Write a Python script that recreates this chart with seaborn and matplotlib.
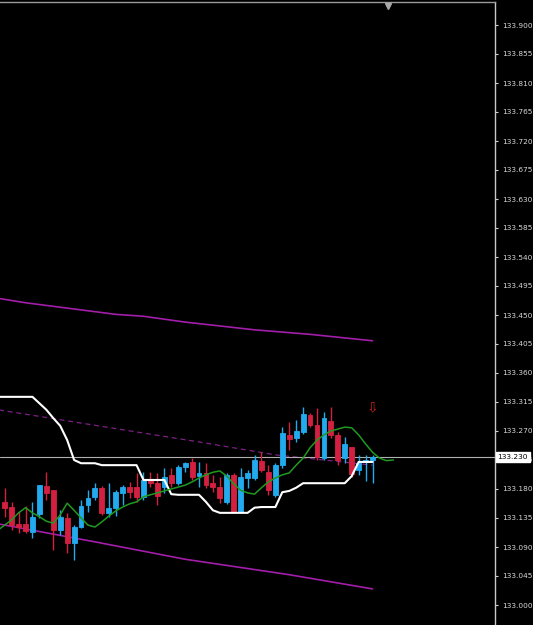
import numpy as np
import pandas as pd
import matplotlib
matplotlib.use("Agg")
import matplotlib.pyplot as plt
import matplotlib.transforms as mtransforms
import seaborn as sns

# ---------------- data ----------------
opens = [133.160, 133.152, 133.126, 133.126, 133.113, 133.141, 133.185, 133.178, 133.116, 133.135,
         133.096, 133.121, 133.155, 133.168, 133.182, 133.143, 133.151, 133.174, 133.183, 133.183,
         133.168, 133.194, 133.189, 133.183, 133.202, 133.189, 133.214, 133.222, 133.200, 133.205,
         133.189, 133.183, 133.160, 133.202, 133.144, 133.197, 133.197, 133.224, 133.206, 133.171,
         133.217, 133.264, 133.259, 133.268, 133.295, 133.279, 133.228, 133.286, 133.264, 133.228,
         133.245, 133.209, 133.222, 133.225]
highs = [133.182, 133.160, 133.144, 133.154, 133.160, 133.186, 133.206, 133.178, 133.147, 133.143,
         133.124, 133.163, 133.178, 133.189, 133.185, 133.189, 133.178, 133.186, 133.191, 133.205,
         133.206, 133.206, 133.205, 133.213, 133.213, 133.217, 133.222, 133.228, 133.222, 133.220,
         133.202, 133.199, 133.205, 133.205, 133.213, 133.209, 133.233, 133.237, 133.217, 133.220,
         133.276, 133.284, 133.287, 133.307, 133.298, 133.306, 133.300, 133.307, 133.268, 133.261,
         133.245, 133.233, 133.233, 133.233]
lows = [133.137, 133.116, 133.112, 133.112, 133.104, 133.135, 133.163, 133.085, 133.109, 133.081,
        133.070, 133.120, 133.144, 133.163, 133.140, 133.137, 133.138, 133.155, 133.166, 133.160,
        133.163, 133.183, 133.155, 133.174, 133.183, 133.186, 133.206, 133.194, 133.183, 133.182,
        133.175, 133.158, 133.157, 133.143, 133.143, 133.182, 133.194, 133.206, 133.171, 133.168,
        133.213, 133.241, 133.253, 133.265, 133.276, 133.225, 133.225, 133.259, 133.217, 133.220,
        133.199, 133.202, 133.192, 133.189]
closes = [133.151, 133.124, 133.121, 133.115, 133.137, 133.186, 133.174, 133.116, 133.137, 133.096,
          133.121, 133.154, 133.166, 133.182, 133.143, 133.151, 133.175, 133.183, 133.175, 133.168,
          133.194, 133.189, 133.169, 133.199, 133.189, 133.214, 133.220, 133.199, 133.205, 133.186,
          133.183, 133.166, 133.202, 133.144, 133.199, 133.205, 133.225, 133.209, 133.178, 133.217,
          133.267, 133.258, 133.270, 133.296, 133.279, 133.230, 133.290, 133.264, 133.225, 133.250,
          133.203, 133.220, 133.225, 133.230]

# shifted moving average (bar -1 .. 56)
ma_values = [133.116, 133.124, 133.132, 133.143, 133.151, 133.143, 133.137, 133.130, 133.127, 133.140,
             133.158, 133.147, 133.135, 133.124, 133.121, 133.129, 133.138, 133.146, 133.152, 133.157,
             133.160, 133.168, 133.171, 133.174, 133.177, 133.180, 133.183, 133.186, 133.191, 133.197,
             133.202, 133.206, 133.208, 133.200, 133.188, 133.178, 133.174, 133.172, 133.182, 133.191,
             133.197, 133.202, 133.205, 133.217, 133.228, 133.244, 133.256, 133.264, 133.270, 133.273,
             133.276, 133.275, 133.264, 133.250, 133.237, 133.228, 133.224, 133.225]
ma_start = -1

# white stepped indicator (bar -1 .. 53)
stop_values = [133.323, 133.323, 133.323, 133.323, 133.323, 133.323, 133.313, 133.303, 133.290, 133.278,
               133.256, 133.225, 133.220, 133.220, 133.220, 133.217, 133.217, 133.217, 133.217, 133.217,
               133.217, 133.194, 133.194, 133.194, 133.194, 133.172, 133.171, 133.171, 133.171, 133.171,
               133.160, 133.147, 133.143, 133.143, 133.143, 133.143, 133.143, 133.151, 133.152, 133.152,
               133.152, 133.175, 133.177, 133.182, 133.189, 133.189, 133.189, 133.189, 133.189, 133.189,
               133.189, 133.200, 133.222, 133.222, 133.222]
stop_start = -1

# channel lines
upper_bars = [-1, 3, 16, 20, 26, 36, 44, 53]
upper_vals = [133.476, 133.469, 133.451, 133.448, 133.439, 133.427, 133.420, 133.410]
lower_bars = [-1, 13, 26, 41, 53]
lower_vals = [133.126, 133.098, 133.071, 133.047, 133.025]
mid_bars = [-1, 28, 39, 53]
mid_vals = [133.303, 133.253, 133.233, 133.217]

ytick_values = [133.000, 133.045, 133.090, 133.135, 133.180, 133.225, 133.270, 133.315, 133.360,
                133.405, 133.450, 133.495, 133.540, 133.585, 133.630, 133.675, 133.720, 133.765,
                133.810, 133.855, 133.900]
bid_price = 133.230
signal_bar = 53
signal_price = 133.306

# ---------------- styling ----------------
sns.set_theme(style="dark", rc={"axes.facecolor": "black", "figure.facecolor": "black"})
plt.rcParams["font.family"] = ["DejaVu Sans"]

BULL = "#22aaee"
BEAR = "#d42040"

W, H = 533, 625
fig = plt.figure(figsize=(W / 100, H / 100), dpi=100)
fig.patch.set_facecolor("black")
ax = fig.add_axes([0, 0, 495 / W, 623 / H])
ax.set_facecolor("black")

candles = pd.DataFrame({"bar": np.arange(len(opens)), "open": opens, "high": highs,
                        "low": lows, "close": closes})
ma_df = pd.DataFrame({"bar": np.arange(ma_start, ma_start + len(ma_values)), "value": ma_values})
stop_df = pd.DataFrame({"bar": np.arange(stop_start, stop_start + len(stop_values)), "value": stop_values})

# channel (behind candles)
sns.lineplot(x=upper_bars, y=upper_vals, ax=ax, color="#a21eaa", lw=1.2, sort=False, zorder=1)
sns.lineplot(x=lower_bars, y=lower_vals, ax=ax, color="#a21eaa", lw=1.2, sort=False, zorder=1)
ax.plot(mid_bars, mid_vals, color="#7e2086", lw=0.9, dashes=(4, 3), zorder=1)

# bid line
ax.axhline(bid_price, color="#b0b0b0", lw=0.8, zorder=1.5)

# candles
up = candles["close"] >= candles["open"]
colors = np.where(up, BULL, BEAR)
ax.vlines(candles["bar"], candles["low"], candles["high"], colors=colors, lw=1.0, zorder=2)
bottoms = np.minimum(candles["open"], candles["close"])
heights = np.abs(candles["close"] - candles["open"])
ax.bar(candles["bar"], heights, bottom=bottoms, width=0.7, color=colors,
       edgecolor=colors, linewidth=0.6, zorder=3)

# indicators on top
sns.lineplot(data=stop_df, x="bar", y="value", ax=ax, color="white", lw=1.5, zorder=4)
sns.lineplot(data=ma_df, x="bar", y="value", ax=ax, color="#1f9a1f", lw=1.1, zorder=4)

# sell arrow
ax.text(signal_bar, signal_price, "\u21e9", color="#c81e1e", fontsize=10, ha="center",
        va="center", zorder=5)

# axes limits: 6.94 px per bar, first bar centre at x=4.7 px
px_per_bar = 6.94
x0 = -4.7 / px_per_bar
ax.set_xlim(x0, x0 + 495 / px_per_bar)
px_per_price = 29 / 0.045
ax.set_ylim(133.9 - 600 / px_per_price, 133.9 + 23 / px_per_price)

ax.set_xticks([])
ax.set_xlabel("")
ax.set_ylabel("")
ax.yaxis.tick_right()
ax.set_yticks(ytick_values)
ax.set_yticklabels([f"{v:.3f}" for v in ytick_values])
ax.tick_params(axis="y", which="both", right=True, left=False, length=2, width=0.8,
               color="#d0d0d0", labelsize=5.3, labelcolor="#d8d8d8", pad=3)
ax.grid(False)
for side in ["left", "bottom"]:
    ax.spines[side].set_visible(False)
ax.spines["right"].set_color("#c8c8c8")
ax.spines["right"].set_linewidth(1.0)
ax.spines["top"].set_color("#9a9a9a")
ax.spines["top"].set_linewidth(1.0)

# current price box on the axis (covers the 133.225 label, as in the terminal)
trans = mtransforms.blended_transform_factory(ax.transAxes, ax.transData)
ax.text(1.005, bid_price, f"{bid_price:.3f}", transform=trans, fontsize=5.3, color="black",
        ha="left", va="center", zorder=10, clip_on=False,
        bbox=dict(boxstyle="square,pad=0.25", facecolor="white", edgecolor="white"))

# chart shift marker
ax.plot([388 / 495], [0.993], marker="v", color="#a8a8a8", markersize=4.5,
        transform=ax.transAxes, clip_on=False, zorder=10)

fig.savefig("out.png", dpi=100, facecolor="black")
